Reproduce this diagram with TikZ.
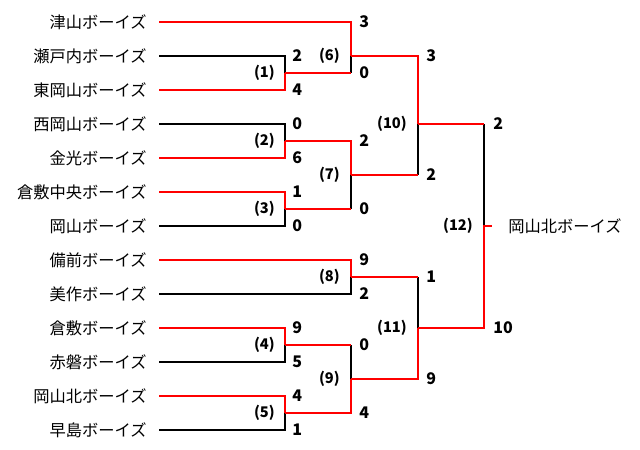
\documentclass[tikz,border=0pt]{standalone}
\usepackage{fontspec}
\setmainfont{Noto Sans CJK JP}
\definecolor{bred}{RGB}{255,0,0}
\begin{document}
\begin{tikzpicture}[x=0.75pt,y=-0.75pt,
  team/.style={anchor=east, inner sep=0pt, font=\fontsize{12.2pt}{12pt}\selectfont},
  champion/.style={anchor=west, inner sep=0pt, font=\fontsize{12.2pt}{12pt}\selectfont},
  score/.style={anchor=west, inner sep=0pt, font=\fontsize{12pt}{12pt}\selectfont\bfseries},
  mlabel/.style={anchor=east, inner sep=0pt, font=\fontsize{11pt}{12pt}\selectfont\bfseries},
  win/.style={draw=bred, line width=2.2pt, line join=miter},
  lose/.style={draw=black, line width=2.2pt, line join=miter}]
\useasboundingbox[fill=white] (0,0) rectangle (640,450);
% teams
\node[team] (t1) at (147,22) {津山ボーイズ};
\node[team] (t2) at (147,56) {瀬戸内ボーイズ};
\node[team] (t3) at (147,90) {東岡山ボーイズ};
\node[team] (t4) at (147,124) {西岡山ボーイズ};
\node[team] (t5) at (147,158) {金光ボーイズ};
\node[team] (t6) at (147,192) {倉敷中央ボーイズ};
\node[team] (t7) at (147,226) {岡山ボーイズ};
\node[team] (t8) at (147,260) {備前ボーイズ};
\node[team] (t9) at (147,294) {美作ボーイズ};
\node[team] (t10) at (147,328) {倉敷ボーイズ};
\node[team] (t11) at (147,362) {赤磐ボーイズ};
\node[team] (t12) at (147,396) {岡山北ボーイズ};
\node[team] (t13) at (147,430) {早島ボーイズ};
% line starts
\foreach \i/\y in {1/22,2/56,3/90,4/124,5/158,6/192,7/226,8/260,9/294,10/328,11/362,12/396,13/430}
  \coordinate (s\i) at (159,\y);
% joints
\coordinate (j1) at (285,73);
\coordinate (j2) at (285,141);
\coordinate (j3) at (285,209);
\coordinate (j4) at (285,345);
\coordinate (j5) at (285,413);
\coordinate (j6) at (351,56);
\coordinate (j7) at (351,175);
\coordinate (j8) at (351,277);
\coordinate (j9) at (351,379);
\coordinate (j10) at (418,124);
\coordinate (j11) at (418,328);
\coordinate (j12) at (484,226);
\coordinate (stub) at (492,226);
% round 1
\draw[lose] (s2) -| (j1);
\draw[win] (s3) -| (j1);
\draw[lose] (s4) -| (j2);
\draw[win] (s5) -| (j2);
\draw[win] (s6) -| (j3);
\draw[lose] (s7) -| (j3);
\draw[win] (s10) -| (j4);
\draw[lose] (s11) -| (j4);
\draw[win] (s12) -| (j5);
\draw[lose] (s13) -| (j5);
% round 2
\draw[lose] (j1 -| j6) -- (j6);
\draw[win] (j1) -- (j1 -| j6);
\draw[win] (s1) -| (j6);
\draw[lose] (j3 -| j7) -- (j7);
\draw[win] (j3) -- (j3 -| j7);
\draw[win] (j2) -| (j7);
\draw[lose] (s9) -| (j8);
\draw[win] (s8) -| (j8);
\draw[lose] (j4 -| j9) -- (j9);
\draw[win] (j4) -- (j4 -| j9);
\draw[win] (j5) -| (j9);
% round 3
\draw[lose] (j7 -| j10) -- (j10);
\draw[win] (j7) -- (j7 -| j10);
\draw[win] (j6) -| (j10);
\draw[lose] (j8 -| j11) -- (j11);
\draw[win] (j8) -- (j8 -| j11);
\draw[win] (j9) -| (j11);
% final
\draw[lose] (j10 -| j12) -- (j12);
\draw[win] (j10) -- (j10 -| j12);
\draw[win] (j11) -| (j12) -- (stub);
\node[champion] (champ) at (508,226) {岡山北ボーイズ};
% scores round 1
\node[score] (c2) at (292,56) {2};
\node[score] (c3) at (292,90) {4};
\node[score] (c4) at (292,124) {0};
\node[score] (c5) at (292,158) {6};
\node[score] (c6) at (292,192) {1};
\node[score] (c7) at (292,226) {0};
\node[score] (c10) at (292,328) {9};
\node[score] (c11) at (292,362) {5};
\node[score] (c12) at (292,396) {4};
\node[score] (c13) at (292,430) {1};
% scores round 2
\node[score] (d1) at (359,22) {3};
\node[score] (d2) at (359,73) {0};
\node[score] (d3) at (359,141) {2};
\node[score] (d4) at (359,209) {0};
\node[score] (d5) at (359,260) {9};
\node[score] (d6) at (359,294) {2};
\node[score] (d7) at (359,345) {0};
\node[score] (d8) at (359,413) {4};
% scores round 3
\node[score] (e1) at (426,56) {3};
\node[score] (e2) at (426,175) {2};
\node[score] (e3) at (426,277) {1};
\node[score] (e4) at (426,379) {9};
% final scores
\node[score] (f1) at (493,124) {2};
\node[score] (f2) at (493,328) {10};
% match labels
\node[mlabel] (m1) at (275,73) {(1)};
\node[mlabel] (m2) at (275,141) {(2)};
\node[mlabel] (m3) at (275,209) {(3)};
\node[mlabel] (m4) at (275,345) {(4)};
\node[mlabel] (m5) at (275,413) {(5)};
\node[mlabel] (m6) at (340,56) {(6)};
\node[mlabel] (m7) at (340,175) {(7)};
\node[mlabel] (m8) at (340,277) {(8)};
\node[mlabel] (m9) at (340,379) {(9)};
\node[mlabel] (m10) at (407,124) {(10)};
\node[mlabel] (m11) at (407,328) {(11)};
\node[mlabel] (m12) at (473,226) {(12)};
\end{tikzpicture}
\end{document}
